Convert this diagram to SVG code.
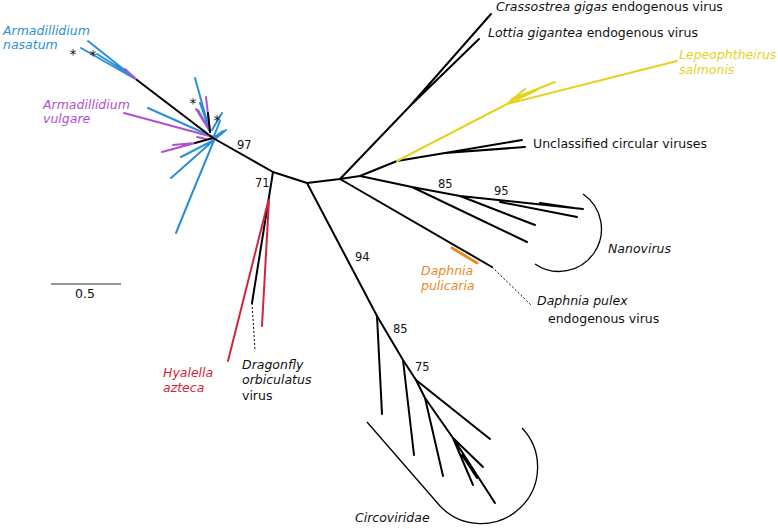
<svg xmlns="http://www.w3.org/2000/svg" width="778" height="529" viewBox="0 0 778 529">
<style>
  text { font-family: "DejaVu Sans", "Liberation Sans", sans-serif; font-size: 12.5px; fill: #111; }
  .it { font-style: italic; }
  .num { font-size: 11.5px; }
  .br { fill: none; stroke: #000; stroke-width: 2; stroke-linecap: round; stroke-linejoin: round; }
  .blue { fill: none; stroke: #2b8fd8; stroke-width: 2; stroke-linecap: round; }
  .purple { fill: none; stroke: #b050d0; stroke-width: 2; stroke-linecap: round; }
  .red { fill: none; stroke: #d0263a; stroke-width: 2; stroke-linecap: round; }
  .yellow { fill: none; stroke: #e6d21c; stroke-width: 2; stroke-linecap: round; }
  .orange { fill: none; stroke: #ea8a2a; stroke-width: 3; stroke-linecap: round; }
  .dot { fill: none; stroke: #000; stroke-width: 1; stroke-dasharray: 2 2; }
  .arc { fill: none; stroke: #000; stroke-width: 1.3; }
  .star { font-size: 14px; text-anchor: middle; }
</style>
<rect width="778" height="529" fill="#fff"/>

<g id="isopods">
  <!-- A. nasatum distal group -->
  <path class="blue" d="M137,80 L88,41 M137,80 L81,48 M131,75 L97,54"/>
  <path class="purple" d="M125,69 L137,80"/>
  <!-- upper cluster -->
  <path class="blue" d="M210,132 L195,78 M208,126 L200,103 M209,130 L198,110 M212,130 L222,113 M214,136 L220,121"/>
  <path class="purple" d="M210,132 L206,97 M206,124 L196,109 M208,128 L199,114"/>
  <path class="br" d="M210,132 L208,113"/>
  <!-- left -->
  <path class="blue" d="M213,137 L148,108"/>
  <path class="purple" d="M213,137 L124,113"/>
  <!-- lower -->
  <path class="blue" d="M215,138 L191,196 L176,233 M214,140 L171,178 M214,140 L181,157 M213,138 L223,131 M215,139 L226,130"/>
  <path class="purple" d="M195,143 L162,152 M195,143 L173,145 M206,139 L197,137"/>
  <path class="br" d="M213,138 L195,143"/>
  <text class="star" x="73" y="59">*</text>
  <text class="star" x="93" y="60">*</text>
  <text class="star" x="193" y="108">*</text>
  <text class="star" x="217" y="125">*</text>
</g>

<g id="backbone">
  <path class="br" d="M137,80 L213,138 L273,172 L307,183 L340,179 L360,176 L397,161"/>
</g>

<g id="hyalella">
  <path class="br" d="M273,172 L252,303"/>
  <path class="red" d="M268,202 L228,361 M269,200 L262,326"/>
  <path class="dot" d="M252,303 L255,350"/>
</g>

<g id="circoviridae">
  <path class="br" d="M307,183 L377,316 L403,360 L416,380 L490,439"/>
  <path class="br" d="M377,316 L382,414 M403,360 L414,455 M416,380 L425,398 L443,476 M425,398 L453,438 L483,467 M453,438 L495,503 M453,438 L473,485 M462,455 L477,478"/>
  <path class="arc" d="M367,422 L440,506 A56,56 0 1 0 522,428"/>
</g>

<g id="molluscs">
  <path class="br" d="M340,179 L410,106 L491,14 M410,106 L479,39"/>
</g>

<g id="unclassified">
  <path class="br" d="M397,161 L445,153 L522,140 M445,153 L525,147"/>
</g>

<g id="lepeophtheirus">
  <path class="yellow" d="M397,161 L507,104 L677,61 M507,104 L525,89 M507,104 L537,90 M512,99 L555,82"/>
</g>

<g id="nanovirus">
  <path class="br" d="M360,176 L412,187 L460,196 L583,209 M412,187 L527,242 M460,196 L535,225 M500,202 L577,217 M540,203 L574,208"/>
  <path class="arc" d="M583,194 A42,42 0 1 1 535,264"/>
</g>

<g id="daphnia">
  <path class="br" d="M340,179 L492,267"/>
  <path class="orange" d="M452,248 L477,263"/>
  <path class="dot" d="M492,267 L532,306"/>
</g>

<g id="labels">
  <text class="it" x="3" y="35" fill="#2b8fd8" style="fill:#2b8fd8">Armadillidium</text>
  <text class="it" x="3" y="49" style="fill:#2b8fd8">nasatum</text>
  <text class="it" x="43" y="109" style="fill:#b050d0">Armadillidium</text>
  <text class="it" x="43" y="123" style="fill:#b050d0">vulgare</text>
  <text x="496" y="11"><tspan class="it">Crassostrea gigas</tspan> endogenous virus</text>
  <text x="488" y="37"><tspan class="it">Lottia gigantea</tspan> endogenous virus</text>
  <text class="it" x="679" y="59" style="fill:#e6d21c">Lepeophtheirus</text>
  <text class="it" x="679" y="74" style="fill:#e6d21c">salmonis</text>
  <text x="533" y="148">Unclassified circular viruses</text>
  <text class="it" x="608" y="253">Nanovirus</text>
  <text class="it" x="421" y="275" style="fill:#ea8a2a">Daphnia</text>
  <text class="it" x="421" y="290" style="fill:#ea8a2a">pulicaria</text>
  <text class="it" x="537" y="305">Daphnia pulex</text>
  <text x="548" y="323">endogenous virus</text>
  <text class="it" x="163" y="377" style="fill:#d0263a">Hyalella</text>
  <text class="it" x="163" y="392" style="fill:#d0263a">azteca</text>
  <text class="it" x="242" y="369">Dragonfly</text>
  <text class="it" x="242" y="384">orbiculatus</text>
  <text x="242" y="400">virus</text>
  <text class="it" x="355" y="522">Circoviridae</text>
  <text class="num" x="237" y="149">97</text>
  <text class="num" x="255" y="187">71</text>
  <text class="num" x="438" y="188">85</text>
  <text class="num" x="494" y="195">95</text>
  <text class="num" x="355" y="261">94</text>
  <text class="num" x="393" y="333">85</text>
  <text class="num" x="415" y="371">75</text>
</g>

<g id="scale">
  <path d="M51,284 L121,284" stroke="#777" stroke-width="1.3" fill="none"/>
  <text x="85" y="298" text-anchor="middle">0.5</text>
</g>
</svg>
